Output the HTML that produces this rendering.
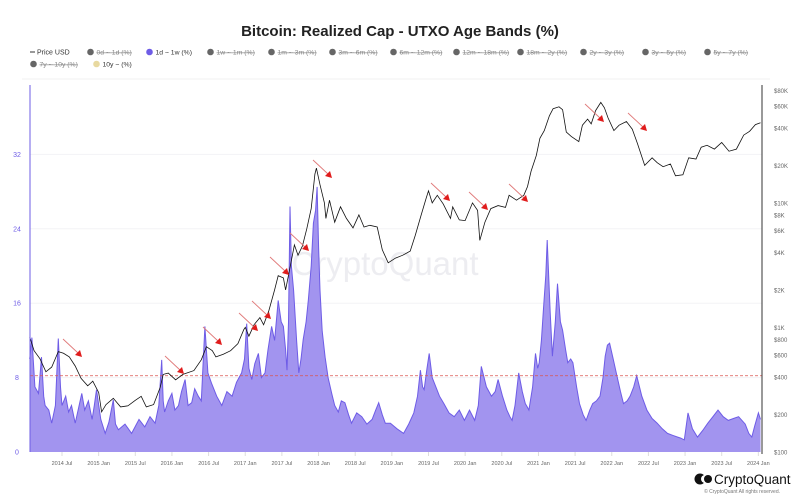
<!DOCTYPE html>
<html><head><meta charset="utf-8"><style>
body{margin:0;background:#fff;font-family:"Liberation Sans",sans-serif;}
#wrap{position:relative;width:800px;height:504px;overflow:hidden;}
</style></head><body>
<div id="wrap">
<svg id="chart" width="800" height="504" xmlns="http://www.w3.org/2000/svg">
<text x="400" y="36" text-anchor="middle" font-size="15" font-weight="bold" fill="#222">Bitcoin: Realized Cap - UTXO Age Bands (%)</text>
<g id="legend" font-size="7" fill="#333"></g>
<text x="385" y="275" text-anchor="middle" font-size="33" fill="#ededf1">CryptoQuant</text>
<g id="grid"></g>
<g id="plot"></g>
<g id="axes" font-size="7" fill="#666"></g>
<g>
<circle cx="700" cy="479" r="5.5" fill="#111"/><circle cx="705" cy="479" r="4" fill="#fff"/><circle cx="708" cy="479" r="4" fill="#111"/>
<text x="714" y="484" font-size="13.5" fill="#111">CryptoQuant</text>
<text x="780" y="493" text-anchor="end" font-size="5" fill="#777">© CryptoQuant All rights reserved.</text>
</g>
</svg>
</div>
<script>
const priceDates=[2014.06,2014.12,2014.2,2014.28,2014.36,2014.45,2014.52,2014.6,2014.68,2014.76,2014.85,2014.92,2015.0,2015.04,2015.1,2015.2,2015.3,2015.4,2015.5,2015.58,2015.65,2015.75,2015.84,2015.88,2015.95,2016.05,2016.15,2016.3,2016.4,2016.47,2016.55,2016.6,2016.7,2016.8,2016.9,2016.98,2017.0,2017.05,2017.12,2017.2,2017.25,2017.32,2017.4,2017.45,2017.52,2017.55,2017.6,2017.67,2017.72,2017.78,2017.84,2017.9,2017.95,2017.97,2018.02,2018.08,2018.1,2018.15,2018.22,2018.3,2018.38,2018.47,2018.55,2018.62,2018.7,2018.8,2018.87,2018.95,2019.05,2019.15,2019.25,2019.32,2019.4,2019.47,2019.5,2019.55,2019.62,2019.7,2019.8,2019.83,2019.92,2020.0,2020.1,2020.17,2020.2,2020.27,2020.35,2020.45,2020.55,2020.6,2020.7,2020.8,2020.85,2020.9,2020.97,2021.02,2021.08,2021.15,2021.2,2021.28,2021.33,2021.38,2021.45,2021.55,2021.6,2021.67,2021.72,2021.78,2021.85,2021.9,2021.95,2022.03,2022.1,2022.2,2022.28,2022.35,2022.45,2022.55,2022.62,2022.7,2022.8,2022.87,2022.97,2023.05,2023.15,2023.22,2023.3,2023.4,2023.5,2023.6,2023.7,2023.8,2023.88,2023.96,2024.03];
const priceValues=[840,650,560,440,480,640,620,580,490,390,340,370,300,210,240,270,230,235,260,280,230,240,330,420,430,380,420,450,550,700,650,580,610,650,740,960,1000,850,1050,1200,1050,1350,2000,2600,2500,2000,2800,4600,3800,4500,6200,9000,17000,19000,14000,10000,7500,10500,7000,9300,7500,6300,8000,6400,6600,6400,4200,3300,3600,3800,4100,5500,8000,11000,12500,10000,11500,9800,7500,9300,7300,7200,10000,8700,5000,7000,9000,9500,9200,11500,10500,11500,13500,18000,24000,33000,38000,50000,57000,59000,56000,37000,34000,31000,42000,47000,43000,55000,64000,58000,48000,38000,42000,45000,39000,30000,20000,23000,21000,19500,20500,16500,16800,23000,22500,28000,29000,27000,30500,26000,27000,35000,37500,42500,44000];
const bandDates=[2014.06,2014.09,2014.13,2014.18,2014.22,2014.25,2014.27,2014.32,2014.36,2014.41,2014.45,2014.48,2014.50,2014.55,2014.59,2014.63,2014.68,2014.72,2014.77,2014.81,2014.86,2014.91,2014.94,2014.97,2015.03,2015.09,2015.14,2015.20,2015.23,2015.27,2015.36,2015.45,2015.55,2015.63,2015.70,2015.77,2015.82,2015.86,2015.88,2015.90,2015.95,2016.0,2016.04,2016.09,2016.13,2016.18,2016.22,2016.27,2016.31,2016.36,2016.40,2016.45,2016.49,2016.54,2016.61,2016.68,2016.75,2016.82,2016.88,2016.95,2016.99,2017.02,2017.05,2017.09,2017.13,2017.18,2017.22,2017.27,2017.31,2017.36,2017.40,2017.45,2017.49,2017.52,2017.55,2017.57,2017.59,2017.61,2017.63,2017.66,2017.70,2017.73,2017.76,2017.79,2017.83,2017.86,2017.90,2017.93,2017.96,2017.98,2018.00,2018.02,2018.05,2018.09,2018.13,2018.18,2018.22,2018.27,2018.31,2018.36,2018.41,2018.45,2018.52,2018.59,2018.66,2018.73,2018.78,2018.82,2018.87,2018.91,2018.98,2019.07,2019.16,2019.23,2019.30,2019.35,2019.39,2019.42,2019.44,2019.48,2019.51,2019.55,2019.58,2019.65,2019.71,2019.78,2019.85,2019.92,2019.99,2020.06,2020.13,2020.18,2020.22,2020.29,2020.36,2020.41,2020.45,2020.51,2020.57,2020.61,2020.64,2020.68,2020.73,2020.78,2020.82,2020.85,2020.87,2020.92,2020.96,2020.99,2021.01,2021.04,2021.07,2021.10,2021.12,2021.16,2021.19,2021.23,2021.26,2021.30,2021.33,2021.37,2021.40,2021.44,2021.47,2021.52,2021.56,2021.61,2021.65,2021.70,2021.74,2021.79,2021.84,2021.88,2021.91,2021.94,2021.97,2022.02,2022.07,2022.12,2022.16,2022.21,2022.25,2022.30,2022.34,2022.41,2022.48,2022.55,2022.62,2022.69,2022.76,2022.83,2022.90,2022.94,2022.99,2023.04,2023.10,2023.17,2023.24,2023.31,2023.38,2023.45,2023.52,2023.59,2023.66,2023.73,2023.82,2023.87,2023.91,2023.95,2024.0,2024.03];
const bandValues=[10,12.3,7,6.3,10.2,6,5.0,4.5,3.1,5,12.2,7,5.0,6,4.3,5,3.1,4.5,6.3,4.5,5.5,3.5,5,6.7,3.5,2.0,3.2,5.6,3,2.4,3,2.0,3.5,2.7,3.8,3.1,5,9.9,5.5,4.3,5.5,6.3,4.5,5.0,6.5,7.8,5,5.3,6.8,6.0,5.5,13.5,8.5,7.4,6,5.0,6.5,6.0,7.5,8.5,10,13.8,9,7.8,9.5,10.6,8,8.5,11,13.5,12,16.3,14,13.5,11,8.8,14,26.4,20,17.4,12,8.5,10,12.1,14,16.3,20,24.6,26,28.5,22,17.4,13,10.2,8,6.3,5,4.3,5.5,5.3,4,3.1,4.2,3.8,3,3.5,4.5,5.3,4,3.1,3.1,2.5,2.0,3,4.2,6,8.8,7,6.7,9,10.6,8,7.4,6,5.2,4.2,3.8,4.5,3.4,4.5,3.4,5,9.2,7,6.0,6.5,7.8,6,4.5,3.8,3.4,5,8.5,6.5,5.2,4.8,4.5,7,10.6,9,9.6,12,15.6,19,22.8,15,10.3,14,18.1,14,13.1,11,9.6,10,9.6,7,5.2,4,3.4,4.5,5.2,5.5,6.0,8,10.3,11.5,11.7,10,8.2,6.5,5.2,5.5,6.0,7,8.2,6,4.5,3.6,3.1,2.5,2.0,1.8,1.6,1.5,1.3,4.2,2.5,1.6,2.3,3.1,3.8,4.5,3.8,3.4,3.6,3.8,3.0,2.0,1.6,2.8,4.2,3.5,4.9,3.8];
const leftTicks=[0,8,16,24,32];
const rightTicks=[100,200,400,600,800,1000,2000,4000,6000,8000,10000,20000,40000,60000,80000];
const rightTickLabels=["$100","$200","$400","$600","$800","$1K","$2K","$4K","$6K","$8K","$10K","$20K","$40K","$60K","$80K"];
const xTickDates=[2014.5,2015,2015.5,2016,2016.5,2017,2017.5,2018,2018.5,2019,2019.5,2020,2020.5,2021,2021.5,2022,2022.5,2023,2023.5,2024];
const xTickLabels=["2014 Jul","2015 Jan","2015 Jul","2016 Jan","2016 Jul","2017 Jan","2017 Jul","2018 Jan","2018 Jul","2019 Jan","2019 Jul","2020 Jan","2020 Jul","2021 Jan","2021 Jul","2022 Jan","2022 Jul","2023 Jan","2023 Jul","2024 Jan"];
const thresholdValue=8.2;
const legendLabels=["0d ~ 1d (%)","1d ~ 1w (%)","1w ~ 1m (%)","1m ~ 3m (%)","3m ~ 6m (%)","6m ~ 12m (%)","12m ~ 18m (%)","18m ~ 2y (%)","2y ~ 3y (%)","3y ~ 5y (%)","5y ~ 7y (%)","7y ~ 10y (%)","10y ~ (%)"];
const legendX=[87,146,207,268,329,390,453,517,580,642,704,30,93];

const NS="http://www.w3.org/2000/svg";
const L=30,R=762,T=85,B=452;
const xS=t=>62+(t-2014.5)*73.3;
const yL=v=>B-v*9.3;
const yP=p=>B-Math.log2(p/100)*37.5;
function mk(tag,attrs,parent){const e=document.createElementNS(NS,tag);for(const k in attrs)e.setAttribute(k,attrs[k]);parent.appendChild(e);return e;}
const grid=document.getElementById('grid'),plot=document.getElementById('plot'),axes=document.getElementById('axes'),legend=document.getElementById('legend');

let e=mk('line',{x1:30,y1:52,x2:35,y2:52,stroke:'#333','stroke-width':1},legend);


e=mk('text',{x:37,y:54.5},legend);e.textContent='Price USD';


legendLabels.forEach((lab,i)=>{
  const lx=legendX[i],ly=i>=11?66.5:54.5;
  const on=i===1,gold=i===12;
  const c=mk('circle',{cx:lx+3.5,cy:ly-2.5,r:3.3,fill:on?'#6e5ce6':gold?'#e8d9a0':'#666'},legend);
  
  
  const t=mk('text',{x:lx+9.5,y:ly,fill:(on||gold)?'#333':'#888','text-decoration':(on||gold)?'none':'line-through','font-size':6.8},legend);
  t.textContent=lab;
  
  
});
e=mk('line',{x1:22,y1:79,x2:770,y2:79,stroke:'#f0f0f0'},grid);


leftTicks.forEach(v=>{
  if(v>0){const g=mk('line',{x1:L,x2:R,y1:yL(v),y2:yL(v),stroke:'#f3f3f6'},grid);
  
  }
  const t=mk('text',{x:17,y:yL(v)+2.5,'text-anchor':'middle',fill:'#6e5ce6'},axes);t.textContent=v;
  
  
});
rightTicks.forEach((p,i)=>{
  const t=mk('text',{x:774,y:yP(p)+2.5,'font-size':6},axes);t.textContent=rightTickLabels[i];
  
  
});
xTickDates.forEach((d,i)=>{
  const t=mk('text',{x:xS(d),y:465,'text-anchor':'middle','font-size':5.5},axes);t.textContent=xTickLabels[i];
  
  
  const k=mk('line',{x1:xS(d),x2:xS(d),y1:B,y2:B+4,stroke:'#ddd'},axes);
  
  
});
let d='M'+xS(bandDates[0])+','+B;
bandDates.forEach((t,i)=>{d+=' L'+xS(t).toFixed(1)+','+yL(bandValues[i]).toFixed(1);});
d+=' L'+xS(bandDates[bandDates.length-1])+','+B+' Z';
e=mk('path',{d:d,fill:'#a294ef',stroke:'none'},plot);


let d2=bandDates.map((t,i)=>(i?'L':'M')+xS(t).toFixed(1)+','+yL(bandValues[i]).toFixed(1)).join(' ');
e=mk('path',{d:d2,fill:'none',stroke:'#6e5ce6','stroke-width':1},plot);


e=mk('line',{x1:L,x2:R,y1:yL(thresholdValue),y2:yL(thresholdValue),stroke:'#d9534f','stroke-width':0.8,'stroke-dasharray':'3,2'},plot);


let d3=priceDates.map((t,i)=>(i?'L':'M')+xS(t).toFixed(1)+','+yP(priceValues[i]).toFixed(1)).join(' ');
e=mk('path',{d:d3,fill:'none',stroke:'#111','stroke-width':0.8},plot);


const arrows=[[63,339],[165,356],[203,327],[239,313],[252,301],[270,257],[290,233],[313,160],[431,183],[469,192],[509,184],[585,104],[628,113]];
arrows.forEach(a=>{
  const g=mk('g',{},plot);
  
  
  mk('line',{x1:a[0],y1:a[1],x2:a[0]+15,y2:a[1]+14,stroke:'#e07a7a','stroke-width':0.9},g);
  mk('polygon',{points:`${a[0]+19},${a[1]+18} ${a[0]+12},${a[1]+16} ${a[0]+17},${a[1]+11}`,fill:'#e01c1c'},g);
});
e=mk('line',{x1:L,x2:L,y1:T,y2:B,stroke:'#6e5ce6','stroke-width':1},axes);


e=mk('line',{x1:R,x2:R,y1:T,y2:B+2,stroke:'#333','stroke-width':1},axes);


</script>
</body></html>
